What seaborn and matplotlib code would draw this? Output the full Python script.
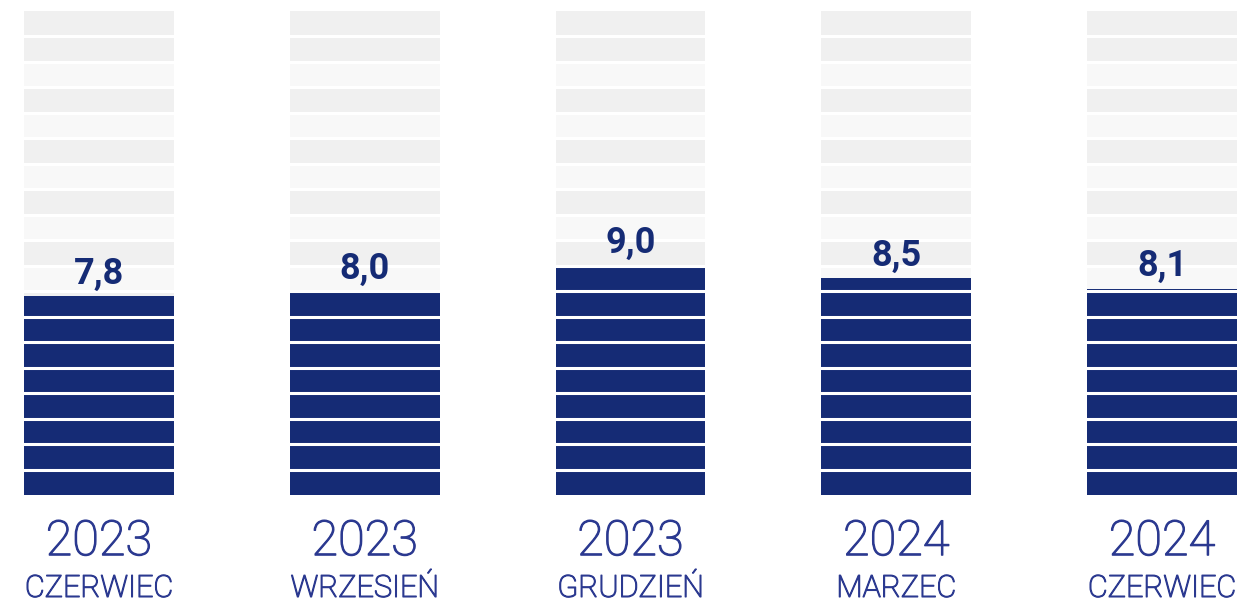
import numpy as np
import pandas as pd
import matplotlib
matplotlib.use("Agg")
import matplotlib.pyplot as plt
import matplotlib.patheffects as pe
import seaborn as sns


# values shown above each column
years = ["2023", "2023", "2023", "2024", "2024"]
months = ["CZERWIEC", "WRZESIEŃ", "GRUDZIEŃ", "MARZEC", "CZERWIEC"]
values = [7.8, 8.0, 9.0, 8.5, 8.1]
value_labels = ["7,8", "8,0", "9,0", "8,5", "8,1"]
n_segments = 19

navy = "#152b75"
text_blue = "#2b3990"
gray_dark = "#f0f0f0"
gray_light = "#f8f8f8"


def initiate():
    sns.set_theme(style="white")
    plt.rcParams["font.family"] = ["Roboto", "DejaVu Sans"]

    keys = [y + " " + m for y, m in zip(years, months)]
    keys = [k + " " * i for i, k in enumerate(keys)]  # keep both CZERWIEC columns apart

    fig = plt.figure(figsize=(12.51, 6.05), dpi=100)
    ax = fig.add_axes([0, 0.1818, 1, 0.80])

    bar_w = 0.564

    # grey scale behind, painted top-down so each level keeps its own shade
    for k in range(n_segments, 0, -1):
        shade = gray_dark if (k % 2 == 0 or k == n_segments) else gray_light
        sns.barplot(x=keys, y=[k] * len(keys), color=shade, width=bar_w,
                    linewidth=0, ax=ax, saturation=1)

    df = pd.DataFrame({"key": keys, "value": values})
    sns.barplot(data=df, x="key", y="value", color=navy, width=bar_w,
                linewidth=0, ax=ax, saturation=1)

    # white separators between segments
    ax.hlines(np.arange(1, n_segments), -1, len(keys), color="white", linewidth=2.2, zorder=5)

    # light face, thickened a little to get a book weight
    thicken = [pe.withStroke(linewidth=0.9, foreground=text_blue)]
    for i, v in enumerate(values):
        ax.text(i, v + 0.5, value_labels[i], ha="center", va="baseline",
                fontsize=26, fontweight="bold", color=navy, zorder=6)
        ax.text(i, -2.36, years[i], ha="center", va="baseline", path_effects=thicken,
                fontsize=35, fontweight="light", color=text_blue, clip_on=False)
        ax.text(i, -4.0, months[i], ha="center", va="baseline", path_effects=thicken,
                fontsize=22, fontweight="light", color=text_blue, clip_on=False)

    ax.set_xlim(-99 / 265.75, (1251 - 99) / 265.75)
    ax.set_ylim(0, n_segments)
    ax.set_xlabel("")
    ax.set_ylabel("")
    ax.set_xticks([])
    ax.set_yticks([])
    sns.despine(ax=ax, left=True, bottom=True)

    fig.savefig("out.png", dpi=100, facecolor="white")
    fig.clf()


if __name__ == "__main__":
    initiate()
